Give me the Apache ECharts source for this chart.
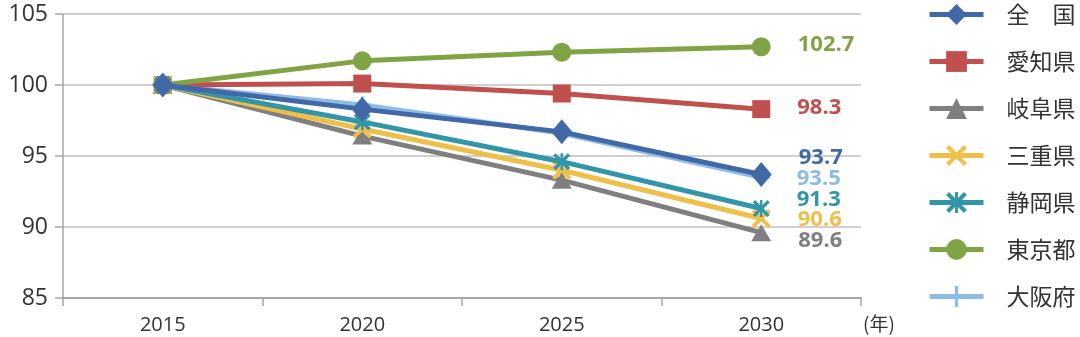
<!DOCTYPE html>
<html>
<head>
<meta charset="utf-8">
<script src="https://cdn.jsdelivr.net/npm/echarts@6/dist/echarts.min.js"></script>
<style>
  html, body { margin: 0; padding: 0; background: #fff; }
  #chart { width: 1080px; height: 337px; }
</style>
</head>
<body>
<div id="chart"></div>
<script>
// 将来推計人口の指数（2015年＝100）
const years = ['2015', '2020', '2025', '2030'];
const zenkoku = [100, 98.3, 96.7, 93.7];
const aichi   = [100, 100.1, 99.4, 98.3];
const gifu    = [100, 96.4, 93.3, 89.6];
const mie     = [100, 96.9, 94.0, 90.6];
const shizuoka= [100, 97.4, 94.6, 91.3];
const tokyo   = [100, 101.7, 102.3, 102.7];
const osaka   = [100, 98.6, 96.6, 93.5];

const yTicks = { min: 85, max: 105, interval: 5 };

// custom marker shapes
const SYM_X = 'path://M0,14 L14,0 L50,36 L86,0 L100,14 L64,50 L100,86 L86,100 L50,64 L14,100 L0,86 L36,50 Z';
const SYM_STAR = 'path://M0,14 L14,0 L50,36 L86,0 L100,14 L64,50 L100,86 L86,100 L50,64 L14,100 L0,86 L36,50 Z M43,0 L57,0 L57,100 L43,100 Z';
const SYM_PLUS = 'path://M42,0 L58,0 L58,42 L100,42 L100,58 L58,58 L58,100 L42,100 L42,58 L0,58 L0,42 L42,42 Z';

const defs = [
  { name: '全　国', values: zenkoku,  color: '#4169A8', symbol: 'diamond', size: [21, 25], dy: -17, z: 9 },
  { name: '愛知県', values: aichi,    color: '#C0504D', symbol: 'rect',    size: 18, dy: -1, z: 3 },
  { name: '岐阜県', values: gifu,     color: '#7F7F7F', symbol: 'triangle',size: [20, 17], dy: 8, z: 2 },
  { name: '三重県', values: mie,      color: '#EEC04A', symbol: SYM_X,     size: 19, dy: 1, z: 3 },
  { name: '静岡県', values: shizuoka, color: '#3295A8', symbol: SYM_STAR,  size: 17, dy: -9, z: 4 },
  { name: '東京都', values: tokyo,    color: '#80A344', symbol: 'circle',  size: 19, dy: -2, z: 3 },
  { name: '大阪府', values: osaka,    color: '#8DBCE6', symbol: SYM_PLUS,  size: 17, dy: 1, z: 2 }
];

const series = defs.map(d => ({
  name: d.name,
  type: 'line',
  z: d.z,
  symbol: d.symbol,
  symbolSize: d.size,
  showAllSymbol: true,
  color: d.color,
  lineStyle: { width: 5, color: d.color },
  itemStyle: { color: d.color },
  emphasis: { disabled: true },
  data: d.values.map((v, i) => i === d.values.length - 1
    ? { value: v, label: {
        show: true, position: 'right', distance: 27, offset: [0, d.dy],
        formatter: String(v), color: d.color,
        fontFamily: 'Open Sans', fontWeight: 'bold', fontSize: 22
      } }
    : v)
}));

const chart = echarts.init(document.getElementById('chart'), null, { renderer: 'canvas' });
chart.setOption({
  animation: false,
  backgroundColor: '#ffffff',
  grid: { left: 63, right: 219, top: 14, bottom: 39, containLabel: false },
  xAxis: {
    type: 'category',
    data: years,
    boundaryGap: true,
    axisLine: { lineStyle: { color: '#A6A6A6', width: 2 } },
    axisTick: { show: true, length: 8, lineStyle: { color: '#A6A6A6', width: 1.5 } },
    axisLabel: { margin: 17, color: '#333333', fontFamily: 'Open Sans', fontSize: 20 },
    splitLine: { show: false }
  },
  yAxis: {
    type: 'value',
    min: yTicks.min, max: yTicks.max, interval: yTicks.interval,
    axisLine: { show: true, lineStyle: { color: '#A6A6A6', width: 1.5 } },
    axisTick: { show: true, length: 8, lineStyle: { color: '#A6A6A6', width: 1.5 } },
    axisLabel: { margin: 15, color: '#333333', fontFamily: 'Open Sans', fontSize: 23 },
    splitLine: { show: true, lineStyle: { color: '#BFBFBF', width: 1.5 } }
  },
  legend: {
    orient: 'vertical',
    left: 922, top: -2,
    itemWidth: 54, itemHeight: 26,
    itemGap: 24,
    selectedMode: false,
    lineStyle: { width: 5 },
    textStyle: { fontFamily: 'Noto Sans CJK JP', fontSize: 23, color: '#333333', padding: [0, 0, 0, 18] },
    data: defs.map(d => d.name)
  },
  graphic: [{
    type: 'text', left: 863, top: 314,
    style: { text: '(年)', fontFamily: 'Noto Sans CJK JP', fontSize: 19, fill: '#333333' }
  }],
  series: series
});
</script>
</body>
</html>
